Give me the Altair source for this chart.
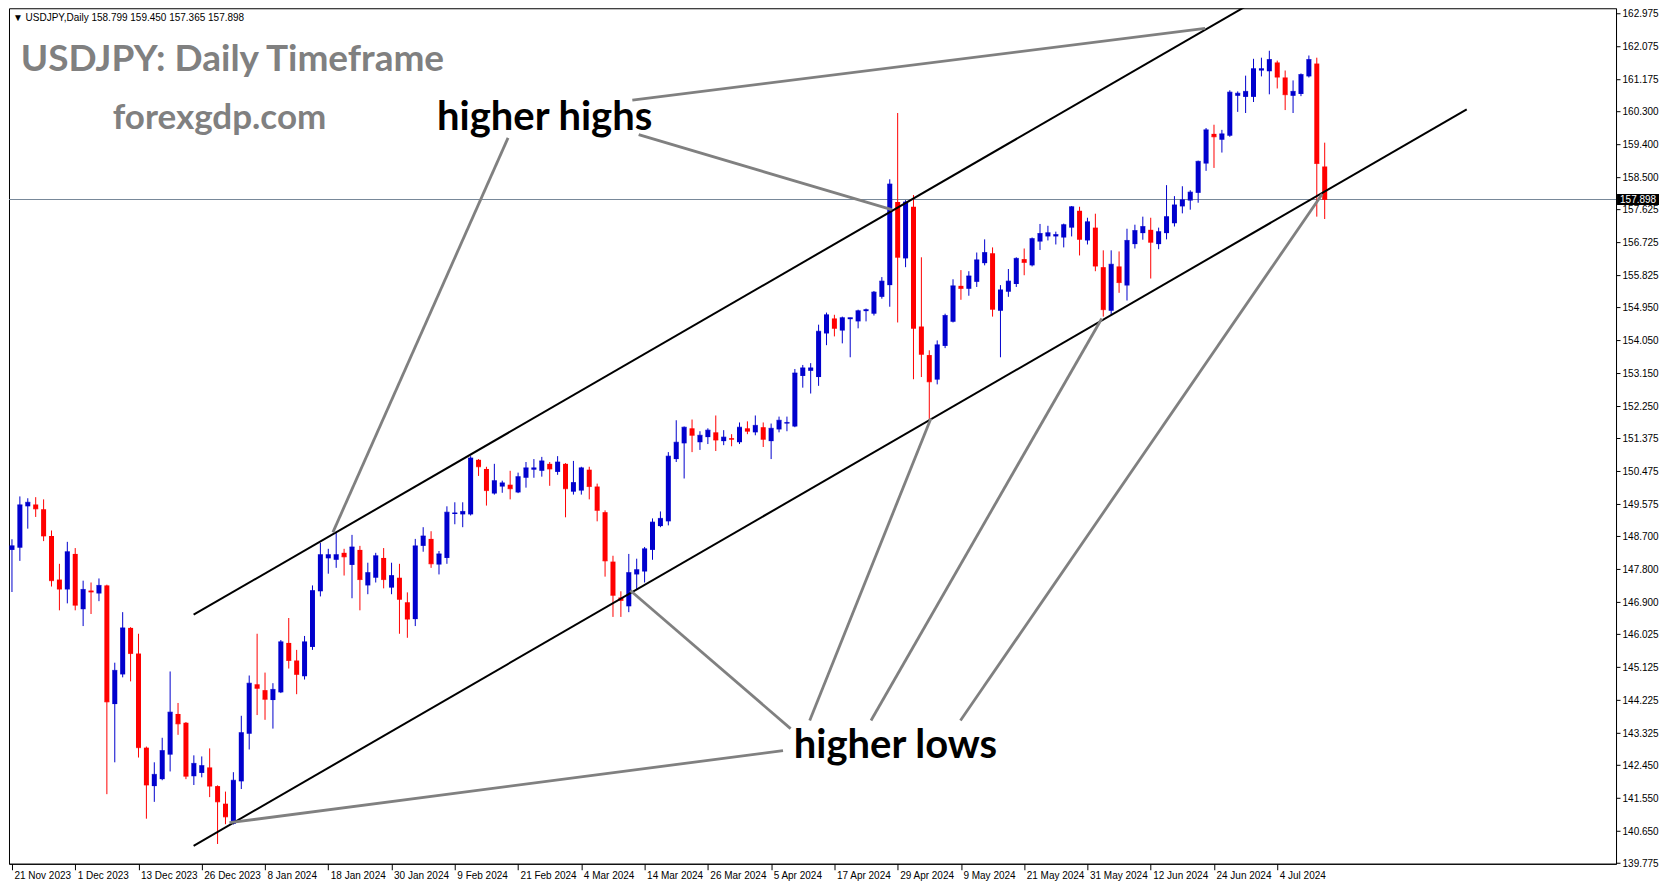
import altair as alt
import pandas as pd
import numpy as np

# ---------------- data ----------------
opens = [148.33, 148.39, 149.52, 149.57, 149.44, 148.71, 147.52, 147.25, 148.22, 146.71,
         147.22, 147.14, 147.36, 144.12, 144.93, 146.20, 145.50, 142.93, 141.88, 142.07,
         142.74, 143.85, 143.61, 142.15, 142.24, 142.39, 141.88, 141.40, 140.85, 142.01,
         143.31, 144.66, 144.50, 144.23, 144.44, 145.79, 145.31, 144.88, 145.68, 147.20,
         148.10, 148.06, 148.25, 147.92, 148.33, 147.36, 147.57, 148.11, 147.30, 147.57,
         146.90, 146.44, 148.44, 148.63, 147.93, 148.11, 149.31, 149.30, 149.30, 150.79,
         150.54, 149.87, 150.06, 150.11, 149.90, 150.30, 150.52, 150.49, 150.68, 150.46,
         150.68, 149.92, 149.95, 150.52, 150.06, 149.36, 148.01, 147.03, 146.79, 147.66,
         147.74, 148.33, 148.98, 149.11, 150.81, 151.24, 151.65, 151.27, 151.41, 151.54,
         151.30, 151.38, 151.27, 151.65, 151.54, 151.68, 151.30, 151.62, 151.78, 151.70,
         153.08, 153.22, 153.05, 154.24, 154.65, 154.32, 154.63, 154.57, 154.85, 154.78,
         155.24, 155.56, 157.83, 156.29, 157.70, 154.43, 153.65, 152.98, 153.90, 154.56,
         155.54, 155.46, 155.65, 156.16, 156.43, 154.86, 155.38, 155.59, 156.27, 156.10,
         156.75, 156.89, 156.89, 156.86, 157.13, 157.59, 156.78, 157.13, 156.05, 154.86,
         156.07, 155.55, 156.68, 156.98, 157.07, 156.68, 156.98, 157.25, 157.71, 157.87,
         158.08, 158.88, 159.69, 159.53, 159.64, 160.73, 160.70, 160.70, 161.42, 161.40,
         161.64, 161.23, 160.73, 160.78, 161.26, 161.61, 158.799]
highs = [148.62, 149.79, 149.74, 149.77, 149.71, 148.86, 147.95, 148.55, 148.38, 147.49,
         147.44, 147.55, 147.38, 145.25, 146.63, 146.22, 146.04, 142.96, 142.53, 143.20,
         145.01, 144.15, 143.63, 142.72, 142.69, 142.91, 141.90, 141.73, 142.26, 143.80,
         144.90, 146.04, 144.98, 144.69, 145.87, 146.47, 145.60, 145.98, 147.36, 148.52,
         148.36, 148.79, 148.36, 148.74, 148.44, 147.98, 148.25, 148.38, 147.98, 147.95,
         147.17, 148.63, 148.95, 148.84, 148.30, 149.52, 149.63, 149.63, 150.89, 150.81,
         150.60, 150.68, 150.22, 150.49, 150.44, 150.73, 150.81, 150.87, 150.73, 150.89,
         150.70, 150.76, 150.60, 150.60, 150.14, 149.41, 148.17, 147.20, 148.22, 148.09,
         148.41, 149.19, 149.38, 151.00, 151.87, 151.70, 151.89, 151.57, 151.65, 152.00,
         151.60, 151.49, 151.81, 151.84, 152.00, 151.81, 151.78, 151.97, 151.97, 153.27,
         153.38, 153.43, 154.48, 154.81, 154.75, 154.70, 154.67, 154.89, 154.92, 155.40,
         155.78, 158.45, 160.26, 157.88, 158.02, 156.32, 153.78, 154.05, 154.78, 155.72,
         155.97, 155.94, 156.45, 156.81, 156.59, 155.56, 156.00, 156.32, 156.56, 156.86,
         157.23, 157.18, 157.02, 157.24, 157.72, 157.70, 157.40, 157.51, 156.51, 156.51,
         156.48, 157.10, 157.21, 157.43, 157.40, 157.13, 158.29, 157.99, 158.26, 158.15,
         158.96, 159.85, 159.94, 159.80, 160.88, 160.85, 161.28, 161.74, 161.77, 161.96,
         161.69, 161.42, 161.15, 161.34, 161.83, 161.77, 159.450]
lows = [147.18, 148.03, 148.91, 149.23, 148.57, 147.33, 146.68, 146.87, 146.68, 146.25,
        146.58, 146.93, 141.66, 142.53, 144.85, 144.74, 142.66, 140.99, 141.45, 142.04,
        142.28, 143.28, 142.07, 141.91, 142.12, 141.58, 140.30, 140.84, 140.83, 141.80,
        142.88, 143.82, 143.69, 143.45, 144.42, 145.09, 144.39, 144.79, 145.60, 147.06,
        147.68, 147.84, 147.63, 147.01, 146.68, 147.12, 147.44, 147.28, 147.12, 146.04,
        145.93, 146.25, 148.28, 147.84, 147.66, 147.95, 149.03, 148.95, 149.27, 150.35,
        149.54, 149.84, 149.89, 149.71, 149.88, 150.03, 150.30, 150.33, 150.08, 150.38,
        149.22, 149.84, 149.84, 149.71, 149.11, 147.60, 146.50, 146.50, 146.63, 147.25,
        147.44, 148.06, 148.95, 149.00, 150.73, 150.28, 151.00, 151.06, 151.22, 151.03,
        151.19, 151.16, 151.22, 151.49, 151.46, 151.14, 150.81, 151.54, 151.57, 151.68,
        152.76, 152.60, 152.81, 153.92, 154.16, 153.97, 153.59, 154.38, 154.57, 154.73,
        155.19, 154.97, 154.54, 156.05, 152.99, 153.05, 151.87, 152.85, 153.84, 154.54,
        155.16, 155.27, 155.51, 156.10, 154.70, 153.59, 155.24, 155.51, 155.83, 156.07,
        156.52, 156.78, 156.67, 156.59, 156.89, 156.37, 156.67, 155.94, 154.70, 154.75,
        155.35, 155.14, 156.56, 156.80, 155.74, 156.54, 156.81, 157.16, 157.52, 157.62,
        157.81, 158.68, 158.76, 159.18, 159.61, 160.29, 160.26, 160.56, 161.26, 160.77,
        160.93, 160.34, 160.26, 160.72, 161.23, 157.43, 157.365]
closes = [148.44, 149.56, 149.63, 149.45, 148.71, 147.49, 147.26, 148.28, 146.82, 147.25,
          147.18, 147.36, 144.18, 145.04, 146.20, 145.50, 142.93, 141.91, 142.20, 142.85,
          143.90, 143.58, 142.15, 142.50, 142.44, 141.88, 141.45, 141.04, 142.04, 143.34,
          144.69, 144.55, 144.25, 144.52, 145.82, 145.31, 144.93, 145.82, 147.22, 148.20,
          148.20, 148.20, 148.14, 148.41, 147.52, 147.71, 148.17, 147.52, 147.63, 146.98,
          146.44, 148.44, 148.71, 147.95, 148.22, 149.36, 149.34, 149.38, 150.84, 150.60,
          149.95, 150.22, 150.16, 150.00, 150.33, 150.57, 150.57, 150.76, 150.54, 150.73,
          150.00, 150.17, 150.57, 150.06, 149.41, 148.03, 147.09, 146.95, 147.71, 147.79,
          148.36, 149.09, 149.19, 150.89, 151.27, 151.68, 151.46, 151.46, 151.60, 151.33,
          151.41, 151.35, 151.68, 151.57, 151.73, 151.35, 151.65, 151.87, 151.81, 153.16,
          153.30, 153.30, 154.30, 154.75, 154.38, 154.67, 154.67, 154.86, 154.89, 155.37,
          155.67, 158.32, 156.32, 157.83, 154.38, 153.67, 152.92, 153.93, 154.73, 155.54,
          155.47, 155.81, 156.25, 156.45, 154.90, 155.43, 155.67, 156.29, 156.18, 156.83,
          156.97, 156.99, 156.94, 157.21, 157.70, 156.81, 157.29, 156.08, 154.89, 156.13,
          155.63, 156.78, 157.05, 157.16, 156.73, 157.02, 157.43, 157.75, 157.89, 158.10,
          158.94, 159.80, 159.61, 159.69, 160.83, 160.80, 160.85, 161.47, 161.47, 161.72,
          161.24, 160.76, 160.85, 161.31, 161.72, 158.88, 157.898]

tick_labels = ['21 Nov 2023', '1 Dec 2023', '13 Dec 2023', '26 Dec 2023', '8 Jan 2024',
               '18 Jan 2024', '30 Jan 2024', '9 Feb 2024', '21 Feb 2024', '4 Mar 2024',
               '14 Mar 2024', '26 Mar 2024', '5 Apr 2024', '17 Apr 2024', '29 Apr 2024',
               '9 May 2024', '21 May 2024', '31 May 2024', '12 Jun 2024', '24 Jun 2024',
               '4 Jul 2024']
price_ticks = [162.975, 162.075, 161.175, 160.300, 159.400, 158.500, 157.625, 156.725,
               155.825, 154.950, 154.050, 153.150, 152.250, 151.375, 150.475, 149.575,
               148.700, 147.800, 146.900, 146.025, 145.125, 144.225, 143.325, 142.450,
               141.550, 140.650, 139.775]
last_price = [157.898]

# channel lines (bar index, price)
chan_x1 = [22.97, 22.97]
chan_p1 = [146.56, 140.25]
chan_x2 = [160.0, 183.96]
chan_p2 = [163.67, 160.36]

# pointer lines (bar index, price)
ptr_x1 = [78.45, 79.25, 62.73, 97.5, 98.46, 100.88, 108.63, 119.94]
ptr_p1 = [160.61, 159.67, 159.58, 142.85, 143.45, 143.67, 143.67, 143.67]
ptr_x2 = [150.88, 111.25, 40.58, 27.5, 78.19, 116.2, 137.81, 165.69]
ptr_p2 = [162.57, 157.62, 148.81, 140.88, 147.22, 151.92, 154.65, 158.05]

# ---------------- chart ----------------
W, H = 1608, 856
SX, SY = W / 1626.0, H / 866.0

n = len(closes)
df = pd.DataFrame({"i": np.arange(n), "open": opens, "high": highs,
                   "low": lows, "close": closes})
df["dir"] = np.where(df["close"] >= df["open"], "up", "down")

xscale = alt.Scale(domain=[-0.375, 202.84], nice=False, zero=False)
yscale = alt.Scale(domain=[139.76, 163.12], nice=False, zero=False)

label_expr = "[" + ",".join("'%s'" % s for s in tick_labels) + "][round(datum.value/8)]"
xaxis = alt.Axis(values=[8 * k for k in range(len(tick_labels))], labelExpr=label_expr,
                 title=None, labelAlign="left", labelBaseline="top", labelPadding=1,
                 labelOffset=2, tickSize=6, labelFlush=False, labelOverlap=False,
                 grid=False)
yaxis = alt.Axis(values=price_ticks, format=".3f", orient="right", title=None,
                 tickSize=4, labelPadding=2, labelOverlap=False, labelFlush=False,
                 grid=False)

color = alt.Color("dir:N", scale=alt.Scale(domain=["up", "down"],
                                            range=["#0000CD", "#FF0000"]), legend=None)

base = alt.Chart(df)
wicks = base.mark_rule(strokeWidth=1).encode(
    x=alt.X("i:Q", scale=xscale, axis=xaxis),
    y=alt.Y("low:Q", scale=yscale, axis=yaxis),
    y2="high:Q", color=color)
bodies = base.mark_rule(strokeWidth=5, strokeCap="butt").encode(
    x=alt.X("i:Q", scale=xscale, axis=xaxis),
    y=alt.Y("open:Q", scale=yscale, axis=yaxis),
    y2="close:Q", color=color)
closes_tick = base.mark_tick(thickness=1, size=5, orient="horizontal").encode(
    x=alt.X("i:Q", scale=xscale, axis=xaxis),
    y=alt.Y("close:Q", scale=yscale, axis=yaxis), color=color)

lp = alt.Chart(pd.DataFrame({"p": last_price}))
hline = lp.mark_rule(color="#778899", strokeWidth=1).encode(
    y=alt.Y("p:Q", scale=yscale, axis=yaxis))
tag = lp.mark_rule(color="black", strokeWidth=11, strokeCap="butt").encode(
    y=alt.Y("p:Q", scale=yscale, axis=yaxis),
    x=alt.value(W + 1), x2=alt.value(W + 43))
tag_text = lp.mark_text(color="white", align="left", baseline="middle",
                        font="Liberation Sans", fontSize=10).encode(
    y=alt.Y("p:Q", scale=yscale, axis=yaxis), x=alt.value(W + 4),
    text=alt.Text("p:Q", format=".3f"))

chan = alt.Chart(pd.DataFrame({"x1": chan_x1, "p1": chan_p1, "x2": chan_x2, "p2": chan_p2}))
chan_lines = chan.mark_rule(color="black", strokeWidth=2, clip=True).encode(
    x=alt.X("x1:Q", scale=xscale, axis=xaxis),
    y=alt.Y("p1:Q", scale=yscale, axis=yaxis),
    x2="x2:Q", y2="p2:Q")

ptr = alt.Chart(pd.DataFrame({"x1": ptr_x1, "p1": ptr_p1, "x2": ptr_x2, "p2": ptr_p2}))
ptr_lines = ptr.mark_rule(color="#808080", strokeWidth=2.8, clip=True).encode(
    x=alt.X("x1:Q", scale=xscale, axis=xaxis),
    y=alt.Y("p1:Q", scale=yscale, axis=yaxis),
    x2="x2:Q", y2="p2:Q")


def label(txt, x, y, size, col, bold=True, font="Lato"):
    return alt.Chart(pd.DataFrame({"t": [txt]})).mark_text(
        align="left", baseline="alphabetic", font=font, fontSize=size,
        fontWeight="bold" if bold else "normal", color=col).encode(
        text="t:N", x=alt.value(x), y=alt.value(y))


header = label("\u25BC USDJPY,Daily  158.799 159.450 157.365 157.898",
               4 * SX, 13 * SY, 10, "black", bold=False, font="Liberation Sans")
title = label("USDJPY: Daily Timeframe", 12 * SX, 64 * SY, 37, "#808080")
site = label("forexgdp.com", 105 * SX, 122 * SY, 35, "#808080")
hh = label("higher highs", 433 * SX, 123 * SY, 40, "black")
hl = label("higher lows", 794 * SX, 759 * SY, 40, "black")

chart = alt.layer(hline, wicks, bodies, closes_tick, chan_lines, ptr_lines,
                  tag, tag_text, header, title, site, hh, hl).properties(
    width=W, height=H,
    padding={"left": 0, "top": 0, "right": 0, "bottom": 0},
    background="white",
).configure_view(stroke="black", strokeWidth=1).configure_axis(
    domainColor="black", tickColor="black", labelColor="black",
    labelFont="Liberation Sans", labelFontSize=10, grid=False)

chart.save("out.html", embed_options={"renderer": "svg", "actions": False})
